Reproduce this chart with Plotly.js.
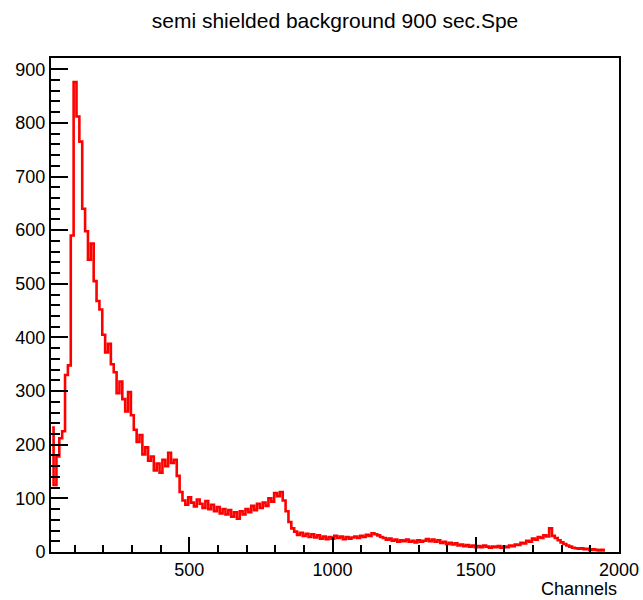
<!DOCTYPE html>
<html>
<head>
<meta charset="utf-8">
<script src="https://cdn.plot.ly/plotly-3.0.1.min.js"></script>
<style>html,body{margin:0;padding:0;background:#fff;}#chart{width:643px;height:600px;}</style>
</head>
<body>
<div id="chart"></div>
<script>
// Histogram: 10-channel bins, first bin starts at channel 16
const binStart = 16;
const binWidth = 10;
const counts = [
  232, 125, 178, 212, 225, 330, 348, 590, 876, 812,
  765, 640, 598, 545, 575, 505, 468, 452, 405, 372,
  388, 350, 335, 296, 318, 285, 262, 298, 255, 228,
  205, 218, 182, 195, 170, 178, 152, 165, 148, 172,
  160, 185, 166, 172, 142, 112, 96, 88, 102, 92,
  85, 98, 90, 82, 95, 80, 88, 76, 84, 72,
  80, 70, 78, 66, 74, 62, 76, 70, 80, 74,
  86, 78, 90, 82, 92, 86, 100, 94, 110, 104,
  112, 96, 76, 56, 44, 38, 32, 36, 30, 34,
  28, 33, 27, 31, 25, 29, 24, 28, 25, 30,
  26, 29, 24, 28, 25, 27, 29, 26, 30, 28,
  32, 30, 35, 33, 31, 28, 26, 23, 25, 21,
  23, 19, 22, 20, 23, 19, 21, 18, 22, 19,
  21, 24, 20, 23, 19, 22, 17, 19, 15, 17,
  14, 16, 12, 14, 11, 13, 10, 12, 9, 11,
  9, 12, 10, 8, 10, 9, 11, 8, 10, 9,
  12, 11, 14, 13, 17, 16, 21, 19, 25, 23,
  28, 26, 31, 29, 44, 30, 26, 22, 18, 15,
  12, 10, 8, 7, 6, 7, 5, 6, 4, 5,
  4, 3, 4, 3
];
const xTickVals = [500, 1000, 1500, 2000];
const yTickVals = [0, 100, 200, 300, 400, 500, 600, 700, 800, 900];
const titleText = "semi shielded background 900 sec.Spe";
const xLabel = "Channels";

const xs = [], ys = [];
for (let i = 0; i < counts.length; i++) {
  xs.push(binStart + i * binWidth + binWidth / 2);
  ys.push(counts[i]);
}

const font = "Liberation Sans, Arial, Helvetica, sans-serif";

const trace = {
  x: xs, y: ys, type: "scatter", mode: "lines",
  line: {color: "#ff0000", width: 2.6, shape: "hvh"},
  hoverinfo: "skip"
};

const layout = {
  width: 643, height: 600,
  margin: {l: 51, r: 24, t: 58, b: 48, pad: 0},
  paper_bgcolor: "#fff", plot_bgcolor: "#fff",
  showlegend: false,
  font: {family: font, color: "#000", size: 18},
  title: {text: titleText, x: 0.5, xref: "paper", xanchor: "center",
          y: 0.966, yref: "container", yanchor: "middle",
          font: {family: font, size: 21, color: "#000"}},
  xaxis: {
    range: [17, 2000], showgrid: false, zeroline: false,
    showline: true, linecolor: "#000", linewidth: 2, mirror: true,
    ticks: "inside", ticklen: 15, tickwidth: 2, tickcolor: "#000",
    tickvals: xTickVals, ticktext: xTickVals.map(String),
    tickfont: {family: font, size: 18, color: "#000"},
    minor: {ticks: "inside", ticklen: 7, tickwidth: 2, tickcolor: "#000", dtick: 100, tick0: 0, showgrid: false}
  },
  yaxis: {
    range: [0, 921], showgrid: false, zeroline: false,
    showline: true, linecolor: "#000", linewidth: 2, mirror: true,
    ticks: "inside", ticklen: 17, tickwidth: 2, tickcolor: "#000",
    tickvals: yTickVals, ticktext: yTickVals.map(String),
    tickfont: {family: font, size: 18, color: "#000"},
    minor: {ticks: "inside", ticklen: 9, tickwidth: 2, tickcolor: "#000", dtick: 20, tick0: 0, showgrid: false}
  },
  annotations: [{
    text: xLabel, xref: "paper", yref: "paper", x: 1, y: 0,
    xanchor: "right", yanchor: "top", yshift: -25, showarrow: false,
    font: {family: font, size: 18, color: "#000"}
  }]
};

Plotly.newPlot("chart", [trace], layout, {displayModeBar: false, staticPlot: true});
</script>
</body>
</html>
